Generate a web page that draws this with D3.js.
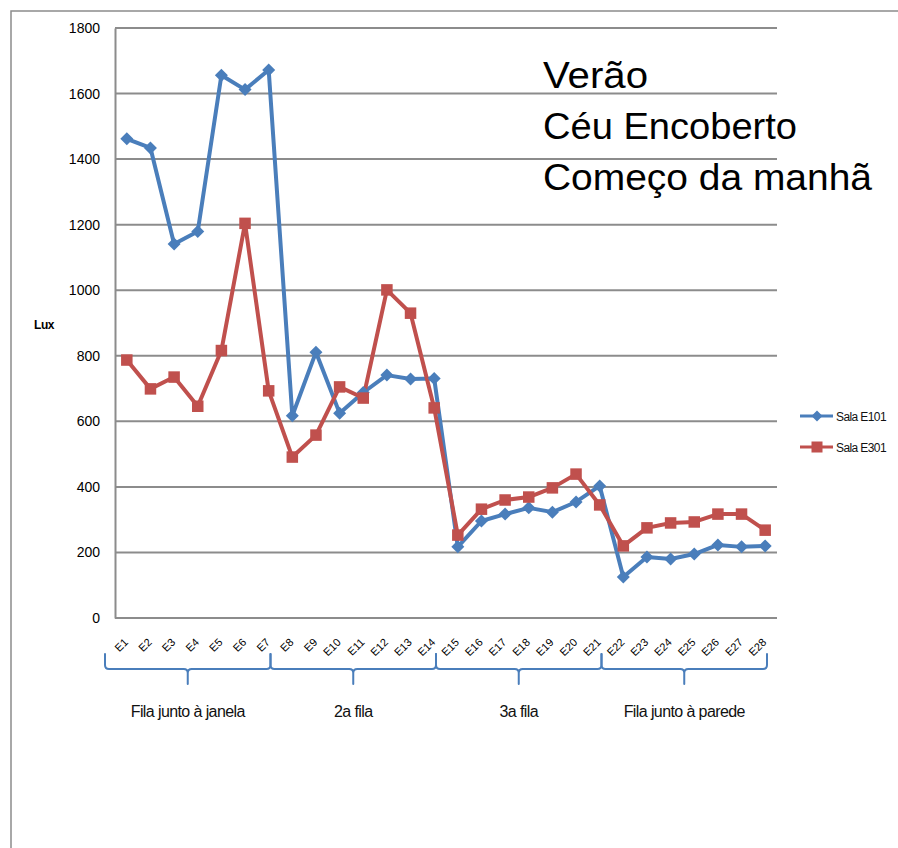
<!DOCTYPE html>
<html>
<head>
<meta charset="utf-8">
<script src="https://cdn.jsdelivr.net/npm/d3@7"></script>
<style>
  html, body { margin: 0; padding: 0; background: #fff; }
  svg { display: block; }
  text { font-family: "Liberation Sans", Arial, Helvetica, sans-serif; }
</style>
</head>
<body>
<div id="chart"></div>
<script>
// ---- data ----
const categories = ["E1","E2","E3","E4","E5","E6","E7","E8","E9","E10","E11","E12","E13","E14",
  "E15","E16","E17","E18","E19","E20","E21","E22","E23","E24","E25","E26","E27","E28"];
const salaE101 = [1462,1434,1141,1179,1656,1612,1672,617,811,625,688,741,729,731,
  217,296,317,336,323,354,403,125,186,180,195,223,217,220];
const salaE301 = [787,699,735,646,816,1204,693,491,558,705,671,1001,930,641,
  253,332,360,369,397,439,345,220,275,290,293,317,317,268];
const yTicks = [0,200,400,600,800,1000,1200,1400,1600,1800];
const groupLabels = ["Fila junto à janela","2a fila","3a fila","Fila junto à parede"];
const groupFirst = ["E1","E8","E15","E22"];
const groupLast = ["E7","E14","E21","E28"];
const seriesNames = ["Sala E101","Sala E301"];
const titleLines = ["Verão","Céu Encoberto","Começo da manhã"];
const yTitle = "Lux";

// ---- layout ----
const W = 898, H = 848;
const plot = {left: 115, right: 777, top: 28, bottom: 618};
const blue = "#4a7ebb", red = "#c0504d", grid = "#8c8c8c";

const svg = d3.select("#chart").append("svg").attr("width", W).attr("height", H);

// outer border (extends beyond the view)
svg.append("rect").attr("x", 11).attr("y", 11).attr("width", 1000).attr("height", 1000)
  .attr("fill", "none").attr("stroke", grid).attr("stroke-width", 1.5);

const x = d3.scaleBand().domain(categories).range([plot.left, plot.right]).padding(0);
const y = d3.scaleLinear().domain([0, 1800]).range([plot.bottom, plot.top]);
const cx = d => x(d) + x.bandwidth() / 2;

// gridlines
svg.append("g").selectAll("line").data(yTicks).join("line")
  .attr("x1", plot.left).attr("x2", plot.right)
  .attr("y1", d => y(d)).attr("y2", d => y(d))
  .attr("stroke", grid).attr("stroke-width", 2);

// y axis
const yAxis = svg.append("g").attr("transform", `translate(${plot.left},0)`)
  .call(d3.axisLeft(y).tickValues(yTicks).tickFormat(d3.format("d")).tickSize(0).tickPadding(15));
yAxis.select(".domain").attr("stroke", grid).attr("stroke-width", 2);
yAxis.selectAll("text").attr("font-size", 14).attr("fill", "#000")
  .attr("font-family", "Liberation Sans, Arial, sans-serif");

// x axis labels (rotated)
svg.append("g").selectAll("text").data(categories).join("text")
  .attr("font-size", 11).attr("fill", "#000")
  .attr("text-anchor", "end")
  .attr("transform", d => `translate(${cx(d) + 2},${plot.bottom + 25}) rotate(-45)`)
  .text(d => d);

// y title
svg.append("text").attr("x", 44).attr("y", 329).attr("text-anchor", "middle")
  .attr("font-size", 12).attr("font-weight", "bold").attr("letter-spacing", -0.5)
  .text(yTitle);

// lines
const line = d3.line().x((d, i) => cx(categories[i])).y(d => y(d));
svg.append("path").datum(salaE101).attr("d", line).attr("fill", "none")
  .attr("stroke", blue).attr("stroke-width", 4).attr("stroke-linejoin", "round");
svg.append("path").datum(salaE301).attr("d", line).attr("fill", "none")
  .attr("stroke", red).attr("stroke-width", 4).attr("stroke-linejoin", "round");

const diamond = s => `M0,${-s}L${s},0L0,${s}L${-s},0Z`;
svg.append("g").selectAll("path").data(salaE101).join("path")
  .attr("d", diamond(6.5)).attr("fill", blue)
  .attr("transform", (d, i) => `translate(${cx(categories[i])},${y(d)})`);
svg.append("g").selectAll("rect").data(salaE301).join("rect")
  .attr("width", 11.5).attr("height", 11.5).attr("fill", red)
  .attr("x", (d, i) => cx(categories[i]) - 5.75).attr("y", d => y(d) - 5.75);

// braces
const yTopB = 654, yLine = 669, yTip = 684, r = 4, shift = -10;
groupLabels.forEach((lab, gi) => {
  const x0 = x(groupFirst[gi]) + shift;
  const x1 = x(groupLast[gi]) + x.bandwidth() + shift;
  const xm = (x0 + x1) / 2;
  const p = `M${x0},${yTopB} L${x0},${yLine - r} Q${x0},${yLine} ${x0 + r},${yLine}` +
    ` L${xm - r},${yLine} Q${xm},${yLine} ${xm},${yLine + r} L${xm},${yTip}` +
    ` M${xm},${yLine + r} Q${xm},${yLine} ${xm + r},${yLine}` +
    ` L${x1 - r},${yLine} Q${x1},${yLine} ${x1},${yLine - r} L${x1},${yTopB}`;
  svg.append("path").attr("d", p).attr("fill", "none").attr("stroke", blue)
    .attr("stroke-width", 2).attr("stroke-linecap", "round");
  svg.append("text").attr("x", xm).attr("y", 717).attr("text-anchor", "middle")
    .attr("font-size", 16).attr("letter-spacing", -0.6).attr("fill", "#111").text(lab);
});

// legend
const legY = [416, 447];
[blue, red].forEach((c, i) => {
  const g = svg.append("g").attr("transform", `translate(800,${legY[i]})`);
  g.append("line").attr("x1", 0).attr("x2", 33).attr("stroke", c).attr("stroke-width", 3);
  if (i === 0) g.append("path").attr("d", diamond(5.5)).attr("fill", c).attr("transform", "translate(17,0)");
  else g.append("rect").attr("x", 11.5).attr("y", -5.5).attr("width", 11).attr("height", 11).attr("fill", c);
  g.append("text").attr("x", 36).attr("y", 4.5).attr("font-size", 12)
    .attr("letter-spacing", -0.6).attr("fill", "#111").text(seriesNames[i]);
});

// title text block
const tBase = [88, 139, 190], tLen = [105, 254, 329];
titleLines.forEach((t, i) => {
  svg.append("text").attr("x", 543).attr("y", tBase[i]).attr("font-size", 37)
    .attr("textLength", tLen[i]).attr("lengthAdjust", "spacingAndGlyphs")
    .attr("fill", "#000").text(t);
});
</script>
</body>
</html>
